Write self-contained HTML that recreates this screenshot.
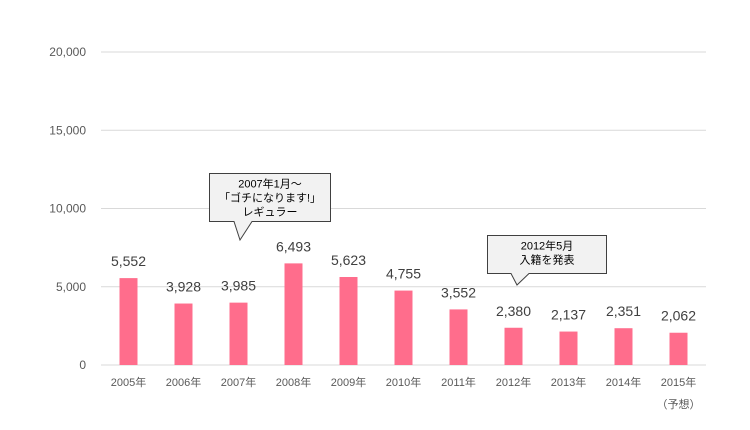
<!DOCTYPE html>
<html><head><meta charset="utf-8"><style>
body{margin:0;background:#fff}
svg{display:block;font-family:"Liberation Sans","Noto Sans CJK JP",sans-serif}
</style></head><body>
<svg id="c" width="750" height="430"></svg>
<script>
const categories=["2005年","2006年","2007年","2008年","2009年","2010年","2011年","2012年","2013年","2014年","2015年"];
const values=[5552,3928,3985,6493,5623,4755,3552,2380,2137,2351,2062];
const yTicks=[0,5000,10000,15000,20000];
const NS="http://www.w3.org/2000/svg";
const svg=document.getElementById('c');
const x0=101,x1=706,y0=365,y1=52,maxV=20000;
const band=(x1-x0)/categories.length;
const xc=i=>x0+band*(i+0.5);
const y=v=>y0-(v/maxV)*(y0-y1);
function el(t,a,txt){const e=document.createElementNS(NS,t);for(const k in a)e.setAttribute(k,a[k]);if(txt!=null)e.textContent=txt;svg.appendChild(e);return e;}
yTicks.forEach(t=>{
 const g=el('line',{x1:x0,x2:x1,y1:y(t),y2:y(t),stroke:'#d9d9d9','stroke-width':1});
 
 
 const l=el('text',{x:86,y:y(t)+4,'text-anchor':'end','font-size':12,fill:'#595959'},t.toLocaleString('en-US'));
 
 
});
values.forEach((v,i)=>{
 const b=el('rect',{x:xc(i)-9,y:y(v),width:18,height:y0-y(v),fill:'#ff6d8c'});
 
 
 const t=el('text',{x:xc(i),y:y(v)-12,'text-anchor':'middle','font-size':14,fill:'#404040'},v.toLocaleString('en-US'));
 
 
 const c=el('text',{x:xc(i),y:386,'text-anchor':'middle','font-size':11,fill:'#595959'},categories[i]);
 
 
});
const f=el('text',{x:xc(10),y:408,'text-anchor':'middle','font-size':11,fill:'#595959'},'（予想）');


function callout(name,x,yT,w,h,tipX,tipY,lines){
 const p=el('path',{d:`M${x} ${yT}H${x+w}V${yT+h}H${tipX+12}L${tipX} ${tipY}L${tipX-6} ${yT+h}H${x}Z`,fill:'#f2f2f2',stroke:'#404040','stroke-width':1});
 
 
 lines.forEach((s,k)=>{
  const t=el('text',{x:x+w/2,y:yT+14+k*14,'text-anchor':'middle','font-size':11,fill:'#000'},s);
  
  
 });
}
callout('callout-2007',209.5,173.5,121,48,240,240,['2007年1月～','「ゴチになります!」','レギュラー']);
callout('callout-2012',487.5,235.5,119,38,517,285,['2012年5月','入籍を発表']);
</script>
</body></html>
